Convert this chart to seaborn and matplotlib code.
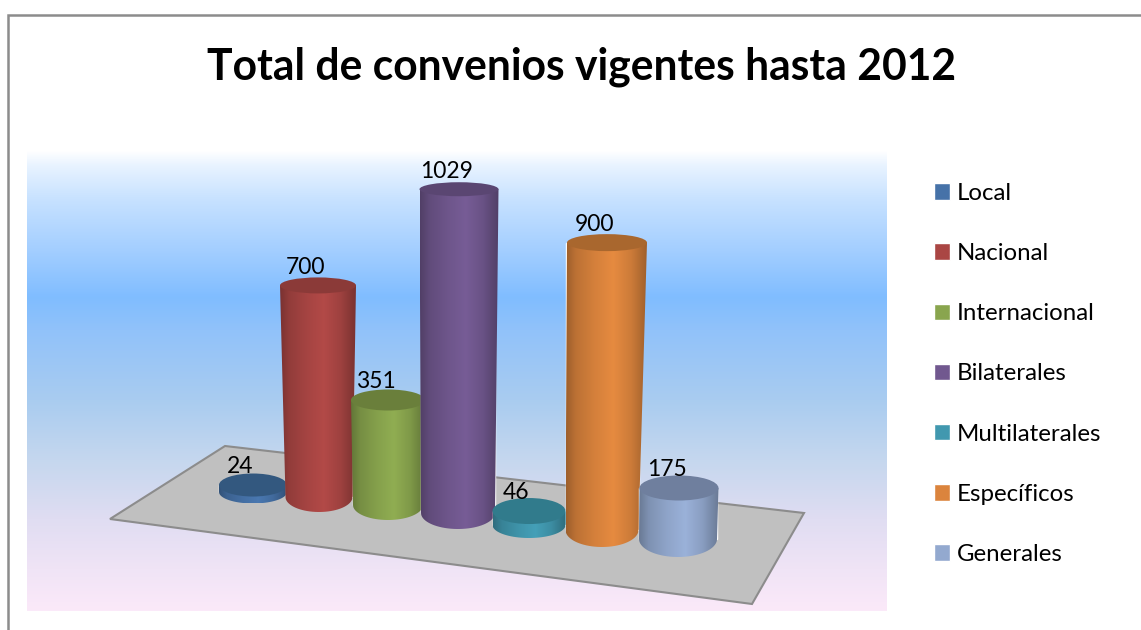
import matplotlib
matplotlib.use('Agg')
import matplotlib.pyplot as plt
import numpy as np
import seaborn as sns
from matplotlib.colors import LinearSegmentedColormap, to_rgb
from matplotlib.patches import Ellipse, PathPatch, Polygon
from matplotlib.path import Path

# datos
categorias = ['Local', 'Nacional', 'Internacional', 'Bilaterales',
              'Multilaterales', 'Específicos', 'Generales']
valores = [24, 700, 351, 1029, 46, 900, 175]
titulo = 'Total de convenios vigentes hasta 2012'

# colores
colores = ['#4672a8', '#aa4644', '#89a54e', '#71588f', '#4198af', '#db843d', '#93a9cf']
tapas = ['#33587f', '#8b3a38', '#6a7f3b', '#5a4672', '#317b8c', '#a9672e', '#6f7f9e']

# perspectiva del cilindro (en pixeles de la imagen)
W, H = 1141, 630
PX_UNIDAD = 0.31
centros = [253, 318, 388, 459, 529, 607, 679]
base_y = [492, 497, 505, 513, 525, 530, 539]
ancho_arriba = [68, 76, 74, 79, 73, 80, 79]
ancho_abajo = [68, 67, 70, 74, 73, 73, 78]
centro_abajo = [253, 319, 388, 458, 529, 602, 678]
radio_arriba = [11.5, 8, 10.5, 7, 13, 8.5, 12.5]
radio_abajo = [11.5, 15, 15, 16, 13, 17, 18]
escala = [0.94, 0.975, 0.965, 1.015, 0.98, 1.03, 0.94]

sns.set_theme(style='white')
plt.rcParams['font.family'] = ['Lato', 'DejaVu Sans']

fig = plt.figure(figsize=(W / 100, H / 100), dpi=100, facecolor='white')

# fondo: degradado, suelo y marco en pixeles
bg = fig.add_axes([0, 0, 1, 1], zorder=0)
bg.set_xlim(0, W)
bg.set_ylim(H, 0)
bg.axis('off')
paradas = [(150, '#ffffff'), (165, '#e8f3ff'), (200, '#c6e1ff'), (250, '#a3ceff'),
           (297, '#80bdff'), (330, '#91c2fa'), (400, '#a9ccf0'), (460, '#c5d7ee'),
           (520, '#e0ddf2'), (570, '#f0e4f6'), (611, '#fbe9f9')]
cmap = LinearSegmentedColormap.from_list(
    'fondo', [((y - 150) / 461, c) for y, c in paradas])
bg.imshow(np.linspace(0, 1, 256)[:, None], cmap=cmap, extent=(27, 887, 611, 150),
          aspect='auto', zorder=1)
bg.set_xlim(0, W)
bg.set_ylim(H, 0)
bg.add_patch(Polygon([(110, 519), (225, 446), (804, 513), (752, 604)], closed=True,
                     facecolor='#c0c0c0', edgecolor='#8c8c8c', linewidth=1.5, zorder=2))
bg.plot([8, 8, W], [H, 15, 15], color='#8c8c8c', linewidth=1.8, zorder=3,
        solid_joinstyle='miter')

# grafico: 1 unidad x = 71 px, y en unidades de valor
ax = fig.add_axes([0, 0, 1, 1], zorder=1)
ax.patch.set_alpha(0)


def px_x(p):
    return (p - centros[0]) / 71


def px_y(p):
    return (base_y[-1] - p) / PX_UNIDAD


sns.barplot(x=categorias, y=valores, hue=categorias, palette=colores, saturation=1,
            width=0.9, dodge=False, legend=True, ax=ax)


def sombreado(color):
    pos = [0, 0.12, 0.35, 0.58, 0.8, 1]
    luz = [0.72, 0.86, 0.97, 1.05, 0.93, 0.72]
    rgb = np.array(to_rgb(color))
    t = np.linspace(0, 1, 128)
    return np.clip(np.outer(np.interp(t, pos, luz), rgb), 0, 1)[None, :, :]


for i, cont in enumerate(ax.containers):
    bar = cont[0]
    v = valores[i]
    z = 3 + i
    y0 = px_y(base_y[i])
    alto = v * escala[i]
    y1 = y0 + alto
    xa0, xa1 = px_x(centros[i] - ancho_arriba[i] / 2), px_x(centros[i] + ancho_arriba[i] / 2)
    xb0 = px_x(centro_abajo[i] - ancho_abajo[i] / 2)
    xb1 = px_x(centro_abajo[i] + ancho_abajo[i] / 2)

    bar.set_x(xb0)
    bar.set_width(xb1 - xb0)
    bar.set_y(y0)
    bar.set_height(alto)
    bar.set_zorder(z)

    # cuerpo: lados y media elipse de abajo
    cb = (xb0 + xb1) / 2
    ry = radio_abajo[i] / PX_UNIDAD
    t = np.linspace(np.pi, 2 * np.pi, 40)
    arco = np.column_stack([cb + (xb1 - xb0) / 2 * np.cos(t), y0 + ry * np.sin(t)])
    verts = np.vstack([[(xa0, y1)], arco, [(xa1, y1)], [(xa0, y1)]])
    cuerpo = PathPatch(Path(verts), transform=ax.transData, facecolor='none', edgecolor='none')
    ax.add_patch(cuerpo)
    img = ax.imshow(sombreado(colores[i]), extent=(min(xa0, xb0), max(xa1, xb1), y0 - ry, y1),
                    aspect='auto', zorder=z + 0.1, interpolation='bilinear')
    img.set_clip_path(cuerpo)

    # tapa
    ax.add_patch(Ellipse(((xa0 + xa1) / 2, y1), xa1 - xa0, 2 * radio_arriba[i] / PX_UNIDAD,
                         facecolor=tapas[i], edgecolor='none', zorder=z + 0.2))

    ax.annotate(str(v), xy=((xa0 + xa1) / 2, y1), xytext=(-9, 13),
                textcoords='offset points', ha='center', va='center',
                fontsize=16.5, color='black', zorder=20)

ax.set_xlim(px_x(0), px_x(W))
ax.set_ylim(px_y(H), px_y(0))
ax.set_xlabel('')
ax.set_ylabel('')
ax.set_xticks([])
ax.set_yticks([])
sns.despine(ax=ax, left=True, bottom=True)

sns.move_legend(ax, 'upper left', bbox_to_anchor=(934 / W, 1 - 183 / H), title=None,
                frameon=False, fontsize=17.3, labelcolor='black', borderaxespad=0, borderpad=0,
                handlelength=0.68, handleheight=0.68, handletextpad=0.26, labelspacing=1.63)

ax.text(582 / W, 1 - 67 / H, titulo, transform=ax.transAxes, ha='center', va='center',
        fontsize=30.7, fontweight='bold', color='black')

fig.savefig('out.png', dpi=100)
